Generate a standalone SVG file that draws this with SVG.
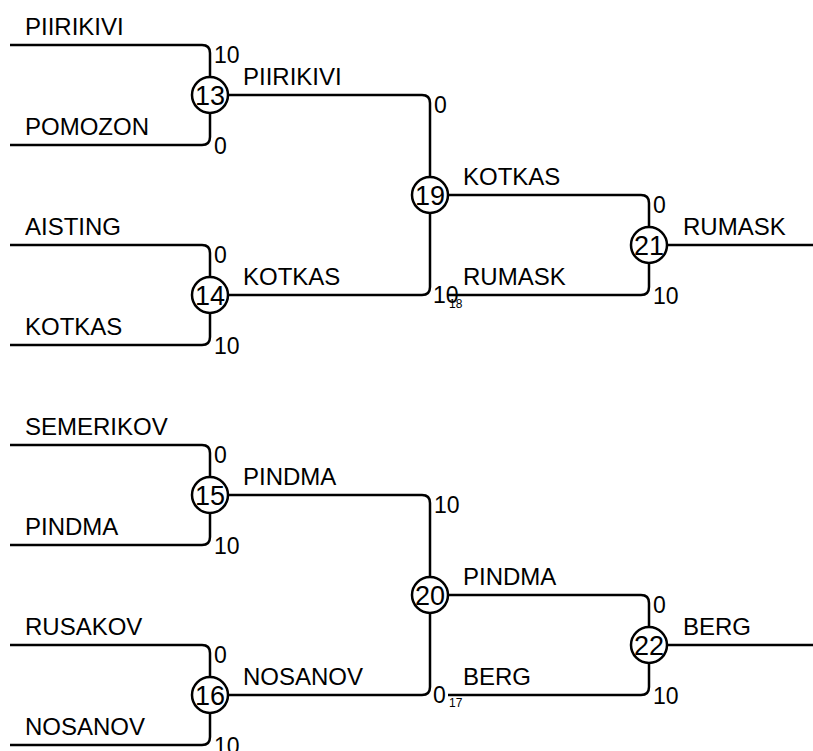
<svg xmlns="http://www.w3.org/2000/svg" width="813" height="751" viewBox="0 0 813 751">
<style>
.ln{fill:none;stroke:#000;stroke-width:2.5}
.c{fill:#fff;stroke:#000;stroke-width:2.5}
.lb{font-family:"Liberation Sans",Arial,sans-serif;font-size:24px;fill:#000}
.sc{font-family:"Liberation Sans",Arial,sans-serif;font-size:23px;fill:#000}
.sm{font-family:"Liberation Sans",Arial,sans-serif;font-size:12px;fill:#000}
.n{font-family:"Liberation Sans",Arial,sans-serif;font-size:27px;fill:#000;text-anchor:middle}
</style>
<rect width="813" height="751" fill="#fff"/>
<g id="connectors">
<path class="ln" d="M10,45 H202 Q210,45 210,53 V137 Q210,145 202,145 H10"/>
<path class="ln" d="M10,245 H202 Q210,245 210,253 V337 Q210,345 202,345 H10"/>
<path class="ln" d="M10,445 H202 Q210,445 210,453 V537 Q210,545 202,545 H10"/>
<path class="ln" d="M10,645 H202 Q210,645 210,653 V737 Q210,745 202,745 H10"/>
<path class="ln" d="M210,95 H422 Q430,95 430,103 V287 Q430,295 422,295 H210"/>
<path class="ln" d="M210,495 H422 Q430,495 430,503 V687 Q430,695 422,695 H210"/>
<path class="ln" d="M430,195 H641 Q649,195 649,203 V287 Q649,295 641,295 H448"/>
<path class="ln" d="M430,595 H641 Q649,595 649,603 V687 Q649,695 641,695 H448"/>
<path class="ln" d="M649,245 H813"/>
<path class="ln" d="M649,645 H813"/>
</g>
<g id="labels">
<text class="lb" x="25" y="35">PIIRIKIVI</text>
<text class="lb" x="25" y="135">POMOZON</text>
<text class="lb" x="25" y="235">AISTING</text>
<text class="lb" x="25" y="335">KOTKAS</text>
<text class="lb" x="25" y="435">SEMERIKOV</text>
<text class="lb" x="25" y="535">PINDMA</text>
<text class="lb" x="25" y="635">RUSAKOV</text>
<text class="lb" x="25" y="735">NOSANOV</text>
<text class="lb" x="243" y="85">PIIRIKIVI</text>
<text class="lb" x="243" y="285">KOTKAS</text>
<text class="lb" x="243" y="485">PINDMA</text>
<text class="lb" x="243" y="685">NOSANOV</text>
<text class="lb" x="463" y="185">KOTKAS</text>
<text class="lb" x="463" y="285">RUMASK</text>
<text class="lb" x="463" y="585">PINDMA</text>
<text class="lb" x="463" y="685">BERG</text>
<text class="lb" x="683" y="235">RUMASK</text>
<text class="lb" x="683" y="635">BERG</text>
</g>
<g id="scores">
<text class="sc" x="214" y="63">10</text>
<text class="sc" x="214" y="154">0</text>
<text class="sc" x="214" y="263">0</text>
<text class="sc" x="214" y="354">10</text>
<text class="sc" x="214" y="463">0</text>
<text class="sc" x="214" y="554">10</text>
<text class="sc" x="214" y="663">0</text>
<text class="sc" x="214" y="754">10</text>
<text class="sc" x="434" y="113">0</text>
<text class="sc" x="433" y="303">10</text>
<text class="sm" x="449" y="308">18</text>
<text class="sc" x="434" y="513">10</text>
<text class="sc" x="433" y="703">0</text>
<text class="sm" x="449" y="707">17</text>
<text class="sc" x="653" y="213">0</text>
<text class="sc" x="653" y="304">10</text>
<text class="sc" x="653" y="613">0</text>
<text class="sc" x="653" y="704">10</text>
</g>
<g id="n13"><circle class="c" cx="210" cy="95" r="18"/><text class="n" x="210" y="105">13</text></g>
<g id="n14"><circle class="c" cx="210" cy="295" r="18"/><text class="n" x="210" y="305">14</text></g>
<g id="n15"><circle class="c" cx="210" cy="495" r="18"/><text class="n" x="210" y="505">15</text></g>
<g id="n16"><circle class="c" cx="210" cy="695" r="18"/><text class="n" x="210" y="705">16</text></g>
<g id="n19"><circle class="c" cx="430" cy="195" r="18"/><text class="n" x="430" y="205">19</text></g>
<g id="n20"><circle class="c" cx="430" cy="595" r="18"/><text class="n" x="430" y="605">20</text></g>
<g id="n21"><circle class="c" cx="649" cy="245" r="18"/><text class="n" x="649" y="255">21</text></g>
<g id="n22"><circle class="c" cx="649" cy="645" r="18"/><text class="n" x="649" y="655">22</text></g>
</svg>
